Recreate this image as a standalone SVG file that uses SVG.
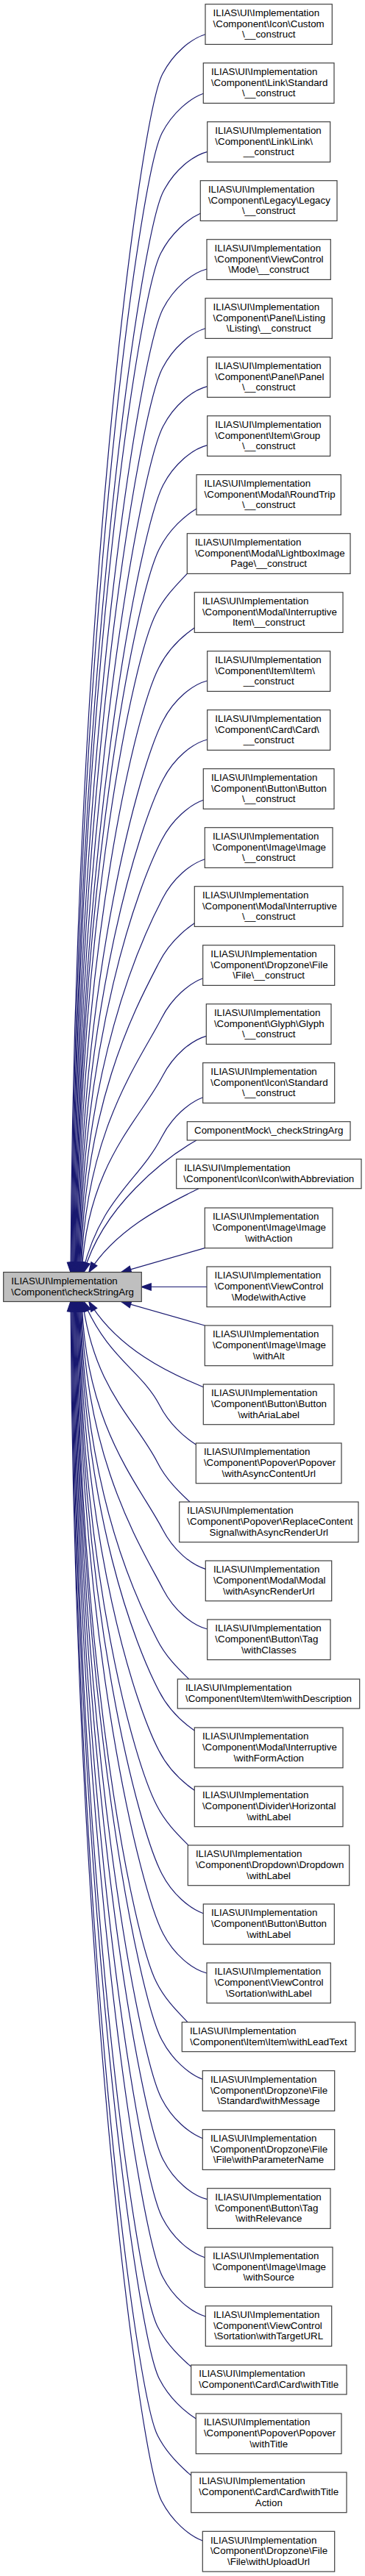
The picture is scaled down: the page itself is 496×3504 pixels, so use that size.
<svg xmlns="http://www.w3.org/2000/svg" width="496" height="3504" viewBox="0 0 496 3504">
<style>
.node rect{fill:#ffffff;stroke:#404040;stroke-width:1.2}
.main rect{fill:#bfbfbf;stroke:#404040;stroke-width:1.2}
text{font-family:"Liberation Sans",Arial,Helvetica,sans-serif;font-size:13.33px;fill:#000000}
text.c{text-anchor:middle}
.edges path{fill:none;stroke:#191970;stroke-width:1.2;marker-end:url(#arr)}
</style>
<defs>
<marker id="arr" markerUnits="userSpaceOnUse" markerWidth="16" markerHeight="12" refX="13" refY="4.67" orient="auto" overflow="visible">
<path d="M0,0 L13.3,4.67 L0,9.33 Z" fill="#191970" stroke="#191970" stroke-width="1.2"/>
</marker>
</defs>
<rect x="0" y="0" width="496" height="3504" fill="#ffffff"/>
<g id="edges" class="edges">
<path d="M279,46.7 C259.8,52.5 235.5,72.2 220.8,100.7 C189.6,160.7 101,834 96,1730.3"/>
<path d="M277,127 C258.4,133.4 234.6,152.9 220.1,181 C188.9,241 101.9,878.2 96.9,1730.3"/>
<path d="M282,206.3 C262,211.3 237,231.3 222,260.3 C190.8,320.3 102.8,921.8 97.8,1730.3"/>
<path d="M272.3,290.3 C255.1,298.1 232.5,317 218.6,344.3 C187.4,404.3 103.7,968 98.7,1730.3"/>
<path d="M281,366 C261.2,371.2 236.4,391.1 221.5,420 C190.3,480 104.6,1009.6 99.6,1730.3"/>
<path d="M279,446.7 C259.8,452.5 235.5,472.2 220.8,500.7 C189.6,560.7 105.5,1054 100.5,1730.3"/>
<path d="M281.7,525.7 C261.7,530.7 236.7,550.7 221.7,579.7 C190.5,639.7 106.4,1097.5 101.4,1730.3"/>
<path d="M281.7,605.7 C261.7,610.7 236.7,630.7 221.7,659.7 C190.5,719.7 107.3,1141.5 102.3,1730.3"/>
<path d="M267,692 C251.4,701.4 230.2,719.7 216.8,746 C185.6,806 108.2,1188.9 103.2,1730.3"/>
<path d="M254.3,780.3 C242.3,793.3 224.3,810.3 212.3,834.3 C181.1,894.3 109.1,1237.5 104.1,1730.3"/>
<path d="M264.3,854 C249.5,864.2 229,882.2 215.9,908 C184.7,968 110,1278 105,1730.3"/>
<path d="M281.7,926 C261.7,931 236.7,951 221.7,980 C190.5,1040 110.9,1317.6 105.9,1730.3"/>
<path d="M281.7,1006 C261.7,1011 236.7,1031 221.7,1060 C190.5,1120 111.8,1361.6 106.8,1730.3"/>
<path d="M276.3,1088.3 C257.9,1094.9 234.3,1114.3 219.9,1142.3 C188.7,1202.3 112.7,1406.9 107.7,1730.3"/>
<path d="M278.3,1168.7 C259.3,1174.7 235.2,1194.3 220.6,1222.7 C189.4,1282.7 113.6,1451.1 108.6,1730.3"/>
<path d="M264.3,1255.7 C249.5,1265.9 229,1283.9 215.9,1309.7 C184.7,1369.7 114.5,1499 109.5,1730.3"/>
<path d="M275.7,1330.7 C257.5,1337.5 234,1356.8 219.7,1384.7 C188.5,1444.7 115.4,1540.2 110.4,1730.3"/>
<path d="M280.3,1409.3 C260.7,1414.7 236.1,1434.6 221.2,1463.3 C190,1523.3 118.6,1583.4 111.3,1730.3"/>
<path d="M275.7,1492.7 C257.5,1499.5 234,1518.8 219.7,1546.7 C188.5,1606.7 137.2,1629.3 112.2,1730.3"/>
<path d="M267,1551 C225,1575 140,1640 114,1730.3"/>
<path d="M270,1616.7 C232,1636 160,1668 121,1730.3"/>
<path d="M278.3,1697.7 L165,1730.3"/>
<path d="M281,1750.5 L192.3,1750.5"/>
<path d="M278.3,1803 L165,1770.7"/>
<path d="M276.3,1886.7 C230,1868 160,1835 121,1770.7"/>
<path d="M266.3,1965 C250.9,1955.4 229.9,1937.1 216.6,1911 C192.5,1864.7 146.8,1847.9 114,1770.7"/>
<path d="M258,2043 C245,2031 226.2,2013.6 213.8,1989 C182.6,1929 128.8,1890.8 112.2,1770.7"/>
<path d="M279.3,2134.3 C260,2128.6 235.6,2108.9 220.9,2080.3 C189.7,2020.3 116.3,1941 111.3,1770.7"/>
<path d="M281.7,2216 C261.7,2211 236.7,2191 221.7,2162 C190.5,2102 115.4,1985.9 110.4,1770.7"/>
<path d="M256.7,2284 C244.1,2271.6 225.6,2254.4 213.4,2230 C182.2,2170 114.5,2023.3 109.5,1770.7"/>
<path d="M264.3,2354 C249.5,2343.8 229,2325.8 215.9,2300 C184.7,2240 113.6,2061.8 108.6,1770.7"/>
<path d="M264.3,2435.3 C249.5,2425.1 229,2407.1 215.9,2381.3 C184.7,2321.3 112.7,2106.5 107.7,1770.7"/>
<path d="M256,2510 C243.6,2497.4 225.3,2480.2 213.1,2456 C181.9,2396 111.8,2147.6 106.8,1770.7"/>
<path d="M276.3,2602.7 C257.9,2596.1 234.3,2576.7 219.9,2548.7 C188.7,2488.7 110.9,2198.6 105.9,1770.7"/>
<path d="M281,2684 C261.2,2678.8 236.4,2658.9 221.5,2630 C190.3,2570 110,2243.3 105,1770.7"/>
<path d="M255,2750.7 C242.9,2737.8 224.8,2720.8 212.8,2696.7 C181.6,2636.7 109.1,2280 104.1,1770.7"/>
<path d="M275.3,2828.3 C257.2,2821.4 233.9,2802.1 219.6,2774.3 C188.4,2714.3 108.2,2322.7 103.2,1770.7"/>
<path d="M275.3,2908.7 C257.2,2901.8 233.9,2882.5 219.6,2854.7 C188.4,2794.7 107.3,2366.9 102.3,1770.7"/>
<path d="M281.7,2991.7 C261.7,2986.7 236.7,2966.7 221.7,2937.7 C190.5,2877.7 106.4,2412.6 101.4,1770.7"/>
<path d="M278.3,3070.7 C259.3,3064.7 235.2,3045.1 220.6,3016.7 C189.4,2956.7 105.5,2456 100.5,1770.7"/>
<path d="M279.3,3151 C260,3145.3 235.6,3125.6 220.9,3097 C189.7,3037 104.6,2500.2 99.6,1770.7"/>
<path d="M259.7,3219.3 C246.2,3207.8 226.9,3190.2 214.4,3165.3 C183.2,3105.3 103.7,2537.7 98.7,1770.7"/>
<path d="M266.3,3290 C250.9,3280.4 229.9,3262.1 216.6,3236 C185.4,3176 102.8,2576.6 97.8,1770.7"/>
<path d="M259.7,3367.3 C246.2,3355.8 226.9,3338.2 214.4,3313.3 C183.2,3253.3 101.9,2619.1 96.9,1770.7"/>
<path d="M275.3,3456 C257.2,3449.1 233.9,3429.8 219.6,3402 C188.4,3342 101,2667.9 96,1770.7"/>
</g>
<g id="main" class="main"><rect x="4.7" y="1730.5" width="187.6" height="40"/><text x="15.3" y="1746.9">ILIAS\UI\Implementation</text><text x="15.3" y="1761.6">\Component\checkStringArg</text></g>
<g id="node1" class="node"><rect x="279" y="5.7" width="172.3" height="54.7"/><text x="289.6" y="22.1">ILIAS\UI\Implementation</text><text x="289.6" y="36.8">\Component\Icon\Custom</text><text class="c" x="365.2" y="51.4">\__construct</text></g>
<g id="node2" class="node"><rect x="276.3" y="85.7" width="177.7" height="54.7"/><text x="286.9" y="102.1">ILIAS\UI\Implementation</text><text x="286.9" y="116.8">\Component\Link\Standard</text><text class="c" x="365.2" y="131.4">\__construct</text></g>
<g id="node3" class="node"><rect x="281.7" y="165.7" width="167" height="54.7"/><text x="292.3" y="182.1">ILIAS\UI\Implementation</text><text x="292.3" y="196.8">\Component\Link\Link\</text><text class="c" x="365.2" y="211.4">__construct</text></g>
<g id="node4" class="node"><rect x="272.3" y="245.7" width="185.7" height="54.7"/><text x="282.9" y="262.1">ILIAS\UI\Implementation</text><text x="282.9" y="276.8">\Component\Legacy\Legacy</text><text class="c" x="365.2" y="291.4">\__construct</text></g>
<g id="node5" class="node"><rect x="281" y="325.7" width="168.3" height="54.7"/><text x="291.6" y="342.1">ILIAS\UI\Implementation</text><text x="291.6" y="356.8">\Component\ViewControl</text><text class="c" x="365.2" y="371.4">\Mode\__construct</text></g>
<g id="node6" class="node"><rect x="279" y="405.7" width="172.3" height="54.7"/><text x="289.6" y="422.1">ILIAS\UI\Implementation</text><text x="289.6" y="436.8">\Component\Panel\Listing</text><text class="c" x="365.2" y="451.4">\Listing\__construct</text></g>
<g id="node7" class="node"><rect x="281.7" y="485.7" width="167" height="54.7"/><text x="292.3" y="502.1">ILIAS\UI\Implementation</text><text x="292.3" y="516.8">\Component\Panel\Panel</text><text class="c" x="365.2" y="531.4">\__construct</text></g>
<g id="node8" class="node"><rect x="281.7" y="565.7" width="167" height="54.7"/><text x="292.3" y="582.1">ILIAS\UI\Implementation</text><text x="292.3" y="596.8">\Component\Item\Group</text><text class="c" x="365.2" y="611.4">\__construct</text></g>
<g id="node9" class="node"><rect x="267" y="645.7" width="196.3" height="54.7"/><text x="277.6" y="662.1">ILIAS\UI\Implementation</text><text x="277.6" y="676.8">\Component\Modal\RoundTrip</text><text class="c" x="365.2" y="691.4">\__construct</text></g>
<g id="node10" class="node"><rect x="254.3" y="725.7" width="221.7" height="54.7"/><text x="264.9" y="742.1">ILIAS\UI\Implementation</text><text x="264.9" y="756.8">\Component\Modal\LightboxImage</text><text class="c" x="365.2" y="771.4">Page\__construct</text></g>
<g id="node11" class="node"><rect x="264.3" y="805.7" width="201.7" height="54.7"/><text x="274.9" y="822.1">ILIAS\UI\Implementation</text><text x="274.9" y="836.8">\Component\Modal\Interruptive</text><text class="c" x="365.2" y="851.4">Item\__construct</text></g>
<g id="node12" class="node"><rect x="281.7" y="885.7" width="167" height="54.7"/><text x="292.3" y="902.1">ILIAS\UI\Implementation</text><text x="292.3" y="916.8">\Component\Item\Item\</text><text class="c" x="365.2" y="931.4">__construct</text></g>
<g id="node13" class="node"><rect x="281.7" y="965.7" width="167" height="54.7"/><text x="292.3" y="982.1">ILIAS\UI\Implementation</text><text x="292.3" y="996.8">\Component\Card\Card\</text><text class="c" x="365.2" y="1011.4">__construct</text></g>
<g id="node14" class="node"><rect x="276.3" y="1045.7" width="177.7" height="54.7"/><text x="286.9" y="1062.1">ILIAS\UI\Implementation</text><text x="286.9" y="1076.8">\Component\Button\Button</text><text class="c" x="365.2" y="1091.4">\__construct</text></g>
<g id="node15" class="node"><rect x="278.3" y="1125.7" width="173.7" height="54.7"/><text x="288.9" y="1142.1">ILIAS\UI\Implementation</text><text x="288.9" y="1156.8">\Component\Image\Image</text><text class="c" x="365.2" y="1171.4">\__construct</text></g>
<g id="node16" class="node"><rect x="264.3" y="1205.7" width="201.7" height="54.7"/><text x="274.9" y="1222.1">ILIAS\UI\Implementation</text><text x="274.9" y="1236.8">\Component\Modal\Interruptive</text><text class="c" x="365.2" y="1251.4">\__construct</text></g>
<g id="node17" class="node"><rect x="275.7" y="1285.7" width="179" height="54.7"/><text x="286.3" y="1302.1">ILIAS\UI\Implementation</text><text x="286.3" y="1316.8">\Component\Dropzone\File</text><text class="c" x="365.2" y="1331.4">\File\__construct</text></g>
<g id="node18" class="node"><rect x="280.3" y="1365.7" width="169.7" height="54.7"/><text x="290.9" y="1382.1">ILIAS\UI\Implementation</text><text x="290.9" y="1396.8">\Component\Glyph\Glyph</text><text class="c" x="365.2" y="1411.4">\__construct</text></g>
<g id="node19" class="node"><rect x="275.7" y="1445.7" width="179" height="54.7"/><text x="286.3" y="1462.1">ILIAS\UI\Implementation</text><text x="286.3" y="1476.8">\Component\Icon\Standard</text><text class="c" x="365.2" y="1491.4">\__construct</text></g>
<g id="node20" class="node"><rect x="254.3" y="1525.7" width="221.7" height="25.3"/><text class="c" x="365.2" y="1542.1">ComponentMock\_checkStringArg</text></g>
<g id="node21" class="node"><rect x="239.7" y="1576.7" width="251.3" height="40"/><text x="250.3" y="1593.1">ILIAS\UI\Implementation</text><text class="c" x="365.3" y="1607.8">\Component\Icon\Icon\withAbbreviation</text></g>
<g id="node22" class="node"><rect x="278.3" y="1643" width="173.7" height="54.7"/><text x="288.9" y="1659.4">ILIAS\UI\Implementation</text><text x="288.9" y="1674.1">\Component\Image\Image</text><text class="c" x="365.2" y="1688.7">\withAction</text></g>
<g id="node23" class="node"><rect x="281" y="1723" width="168.3" height="54.7"/><text x="291.6" y="1739.4">ILIAS\UI\Implementation</text><text x="291.6" y="1754.1">\Component\ViewControl</text><text class="c" x="365.2" y="1768.7">\Mode\withActive</text></g>
<g id="node24" class="node"><rect x="278.3" y="1803" width="173.7" height="54.7"/><text x="288.9" y="1819.4">ILIAS\UI\Implementation</text><text x="288.9" y="1834.1">\Component\Image\Image</text><text class="c" x="365.2" y="1848.7">\withAlt</text></g>
<g id="node25" class="node"><rect x="276.3" y="1883" width="177.7" height="54.7"/><text x="286.9" y="1899.4">ILIAS\UI\Implementation</text><text x="286.9" y="1914.1">\Component\Button\Button</text><text class="c" x="365.2" y="1928.7">\withAriaLabel</text></g>
<g id="node26" class="node"><rect x="266.3" y="1963" width="197.7" height="54.7"/><text x="276.9" y="1979.4">ILIAS\UI\Implementation</text><text x="276.9" y="1994.1">\Component\Popover\Popover</text><text class="c" x="365.2" y="2008.7">\withAsyncContentUrl</text></g>
<g id="node27" class="node"><rect x="243.7" y="2043" width="243.3" height="54.7"/><text x="254.3" y="2059.4">ILIAS\UI\Implementation</text><text x="254.3" y="2074.1">\Component\Popover\ReplaceContent</text><text class="c" x="365.3" y="2088.7">Signal\withAsyncRenderUrl</text></g>
<g id="node28" class="node"><rect x="279.3" y="2123" width="171.4" height="54.7"/><text x="289.9" y="2139.4">ILIAS\UI\Implementation</text><text x="289.9" y="2154.1">\Component\Modal\Modal</text><text class="c" x="365.2" y="2168.7">\withAsyncRenderUrl</text></g>
<g id="node29" class="node"><rect x="281.7" y="2203" width="167.3" height="54.7"/><text x="292.3" y="2219.4">ILIAS\UI\Implementation</text><text x="292.3" y="2234.1">\Component\Button\Tag</text><text class="c" x="365.3" y="2248.7">\withClasses</text></g>
<g id="node30" class="node"><rect x="241.3" y="2284" width="247.4" height="40"/><text x="251.9" y="2300.4">ILIAS\UI\Implementation</text><text class="c" x="365" y="2315.1">\Component\Item\Item\withDescription</text></g>
<g id="node31" class="node"><rect x="264.3" y="2350" width="201.7" height="54.7"/><text x="274.9" y="2366.4">ILIAS\UI\Implementation</text><text x="274.9" y="2381.1">\Component\Modal\Interruptive</text><text class="c" x="365.2" y="2395.7">\withFormAction</text></g>
<g id="node32" class="node"><rect x="264.3" y="2430" width="201.7" height="54.7"/><text x="274.9" y="2446.4">ILIAS\UI\Implementation</text><text x="274.9" y="2461.1">\Component\Divider\Horizontal</text><text class="c" x="365.2" y="2475.7">\withLabel</text></g>
<g id="node33" class="node"><rect x="255.3" y="2510" width="219.4" height="54.7"/><text x="265.9" y="2526.4">ILIAS\UI\Implementation</text><text x="265.9" y="2541.1">\Component\Dropdown\Dropdown</text><text class="c" x="365" y="2555.7">\withLabel</text></g>
<g id="node34" class="node"><rect x="276.3" y="2590" width="178" height="54.7"/><text x="286.9" y="2606.4">ILIAS\UI\Implementation</text><text x="286.9" y="2621.1">\Component\Button\Button</text><text class="c" x="365.3" y="2635.7">\withLabel</text></g>
<g id="node35" class="node"><rect x="281" y="2670" width="168.3" height="54.7"/><text x="291.6" y="2686.4">ILIAS\UI\Implementation</text><text x="291.6" y="2701.1">\Component\ViewControl</text><text class="c" x="365.2" y="2715.7">\Sortation\withLabel</text></g>
<g id="node36" class="node"><rect x="247.3" y="2750.7" width="235.4" height="40"/><text x="257.9" y="2767.1">ILIAS\UI\Implementation</text><text class="c" x="365" y="2781.8">\Component\Item\Item\withLeadText</text></g>
<g id="node37" class="node"><rect x="275.3" y="2816.7" width="179.4" height="54.7"/><text x="285.9" y="2833.1">ILIAS\UI\Implementation</text><text x="285.9" y="2847.8">\Component\Dropzone\File</text><text class="c" x="365" y="2862.4">\Standard\withMessage</text></g>
<g id="node38" class="node"><rect x="275.3" y="2896.7" width="179.4" height="54.7"/><text x="285.9" y="2913.1">ILIAS\UI\Implementation</text><text x="285.9" y="2927.8">\Component\Dropzone\File</text><text class="c" x="365" y="2942.4">\File\withParameterName</text></g>
<g id="node39" class="node"><rect x="281.7" y="2976.7" width="167.3" height="54.7"/><text x="292.3" y="2993.1">ILIAS\UI\Implementation</text><text x="292.3" y="3007.8">\Component\Button\Tag</text><text class="c" x="365.3" y="3022.4">\withRelevance</text></g>
<g id="node40" class="node"><rect x="278.3" y="3056.7" width="173.7" height="54.7"/><text x="288.9" y="3073.1">ILIAS\UI\Implementation</text><text x="288.9" y="3087.8">\Component\Image\Image</text><text class="c" x="365.2" y="3102.4">\withSource</text></g>
<g id="node41" class="node"><rect x="279.3" y="3136.7" width="171.4" height="54.7"/><text x="289.9" y="3153.1">ILIAS\UI\Implementation</text><text x="289.9" y="3167.8">\Component\ViewControl</text><text class="c" x="365" y="3182.4">\Sortation\withTargetURL</text></g>
<g id="node42" class="node"><rect x="259.7" y="3217" width="211.3" height="40"/><text x="270.3" y="3233.4">ILIAS\UI\Implementation</text><text class="c" x="365.3" y="3248.1">\Component\Card\Card\withTitle</text></g>
<g id="node43" class="node"><rect x="266.3" y="3283" width="197.7" height="54.7"/><text x="276.9" y="3299.4">ILIAS\UI\Implementation</text><text x="276.9" y="3314.1">\Component\Popover\Popover</text><text class="c" x="365.2" y="3328.7">\withTitle</text></g>
<g id="node44" class="node"><rect x="259.7" y="3363" width="211.3" height="54.7"/><text x="270.3" y="3379.4">ILIAS\UI\Implementation</text><text x="270.3" y="3394.1">\Component\Card\Card\withTitle</text><text class="c" x="365.3" y="3408.7">Action</text></g>
<g id="node45" class="node"><rect x="275.3" y="3443.3" width="179.4" height="54.7"/><text x="285.9" y="3459.7">ILIAS\UI\Implementation</text><text x="285.9" y="3474.4">\Component\Dropzone\File</text><text class="c" x="365" y="3489">\File\withUploadUrl</text></g>
</svg>
